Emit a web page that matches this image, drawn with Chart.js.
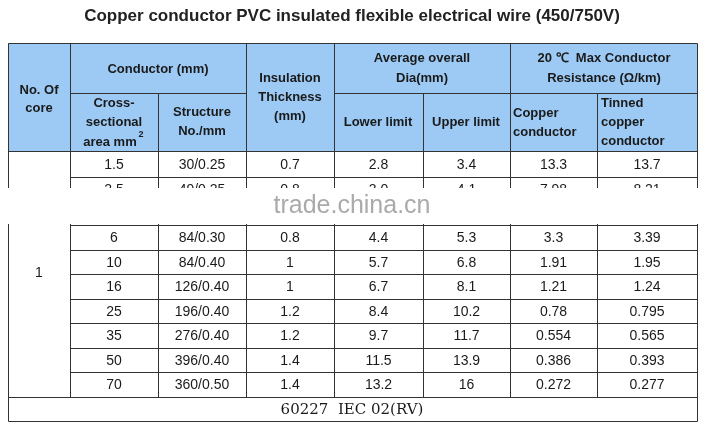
<!DOCTYPE html><html><head><meta charset="utf-8">
<script src="https://cdn.jsdelivr.net/npm/chart.js@4"></script>
<style>html,body{margin:0;background:#fff}#w{width:705px;height:429px}</style></head><body>
<div id="w"><canvas id="c"></canvas></div>
<script>
const title = "Copper conductor PVC insulated flexible electrical wire (450/750V)";
const area = ["1.5","2.5","4","6","10","16","25","35","50","70"];
const structure = ["30/0.25","49/0.25","56/0.30","84/0.30","84/0.40","126/0.40","196/0.40","276/0.40","396/0.40","360/0.50"];
const insulation = ["0.7","0.8","0.8","0.8","1","1","1.2","1.2","1.4","1.4"];
const lower = ["2.8","3.0","3.6","4.4","5.7","6.7","8.4","9.7","11.5","13.2"];
const upper = ["3.4","4.1","4.8","5.3","6.8","8.1","10.2","11.7","13.9","16"];
const copper = ["13.3","7.98","4.95","3.3","1.91","1.21","0.78","0.554","0.386","0.272"];
const tinned = ["13.7","8.21","5.09","3.39","1.95","1.24","0.795","0.565","0.393","0.277"];
const footer = "60227  IEC 02(RV)";
const colX = [8,70,158,246,334,423,510,597,697];
const rowY = [151,177,201,225,250,274,299,323,348,372,397];
const yTop=43, ySplit=93, yEnd=421;
const tablePlugin = {id:'tbl', afterDraw(ch){
  const c=ch.ctx, sx=ch.scales.x, sy=ch.scales.y;
  const X=v=>sx.getPixelForValue(v), Y=v=>sy.getPixelForValue(v);
  c.save();
  c.fillStyle='#9ccaf4'; c.fillRect(X(colX[0]),Y(yTop),X(colX[8])-X(colX[0]),Y(rowY[0])-Y(yTop));
  c.fillStyle='#222'; c.font='bold 17px Arial, "Liberation Sans"'; c.textAlign='center'; c.textBaseline='middle';
  c.fillText(title,X(352),Y(16));
  c.strokeStyle='#333'; c.lineWidth=1;
  const L=(a,b,d,e)=>{c.beginPath();c.moveTo(Math.round(X(a))+.5,Math.round(Y(b))+.5);c.lineTo(Math.round(X(d))+.5,Math.round(Y(e))+.5);c.stroke();};
  L(colX[0],yTop,colX[8],yTop); L(colX[0],yEnd,colX[8],yEnd);
  L(colX[0],yTop,colX[0],yEnd); L(colX[8],yTop,colX[8],yEnd);
  L(colX[1],ySplit,colX[3],ySplit); L(colX[4],ySplit,colX[6],ySplit); L(colX[6],ySplit,colX[8],ySplit);
  L(colX[0],rowY[0],colX[8],rowY[0]);
  for(let i=1;i<rowY.length;i++) L(i==rowY.length-1?colX[0]:colX[1],rowY[i],colX[8],rowY[i]);
  for(let j=1;j<8;j++){ const split=(j==2||j==5||j==7); L(colX[j],split?ySplit:yTop,colX[j],rowY[10]); }
  c.fillStyle='#1a1a1a'; c.font='bold 13px Arial, "Liberation Sans"';
  const T=(s,x,y,al)=>{c.textAlign=al||'center';c.fillText(s,X(x),Y(y));};
  T("No. Of",39,90);T("core",39,108);
  T("Conductor (mm)",158,69);T("Insulation",290,78);T("Thickness",290,97);T("(mm)",290,116);
  T("Average overall",422,58);T("Dia(mm)",422,78);
  T("20 ℃  Max Conductor",604,58);T("Resistance (Ω/km)",604,78);
  T("Cross-",114,103);T("sectional",114,122);T("area mm",110,142);c.font='bold 9px Arial';T("2",141,135);
  c.font='bold 13px Arial, "Liberation Sans"';
  T("Structure",202,112);T("No./mm",202,131);
  T("Lower limit",378,122);T("Upper limit",466,122);
  T("Copper",513,113,'left');T("conductor",513,132,'left');
  T("Tinned",601,103,'left');T("copper",601,122,'left');T("conductor",601,141,'left');
  c.font='14px Arial, "Liberation Sans"';
  const cols=[area,structure,insulation,lower,upper,copper,tinned];
  for(let i=0;i<area.length;i++){const yc=(rowY[i]+rowY[i+1])/2+1;
    cols.forEach((arr,j)=>T(arr[i],(colX[j+1]+colX[j+2])/2,yc));}
  T("1",39,273);
  c.font='15px "DejaVu Serif", serif'; T(footer,352,410);
  // watermark band
  c.fillStyle='#fff'; c.fillRect(X(0),Y(188),X(705)-X(0),Y(224)-Y(188));
  c.fillStyle='#aaa'; c.font='25px Arial, "Liberation Sans"'; T("trade.china.cn",352,206);
  c.restore();
}};
new Chart(document.getElementById('c'),{type:'scatter',data:{datasets:[{data:[]}]},
 options:{responsive:true,maintainAspectRatio:false,animation:false,layout:{padding:0},
  plugins:{legend:{display:false},tooltip:{enabled:false}},
  scales:{x:{type:'linear',min:0,max:705,display:false},y:{type:'linear',min:0,max:429,reverse:true,display:false}}},
 plugins:[tablePlugin]});
</script></body></html>
